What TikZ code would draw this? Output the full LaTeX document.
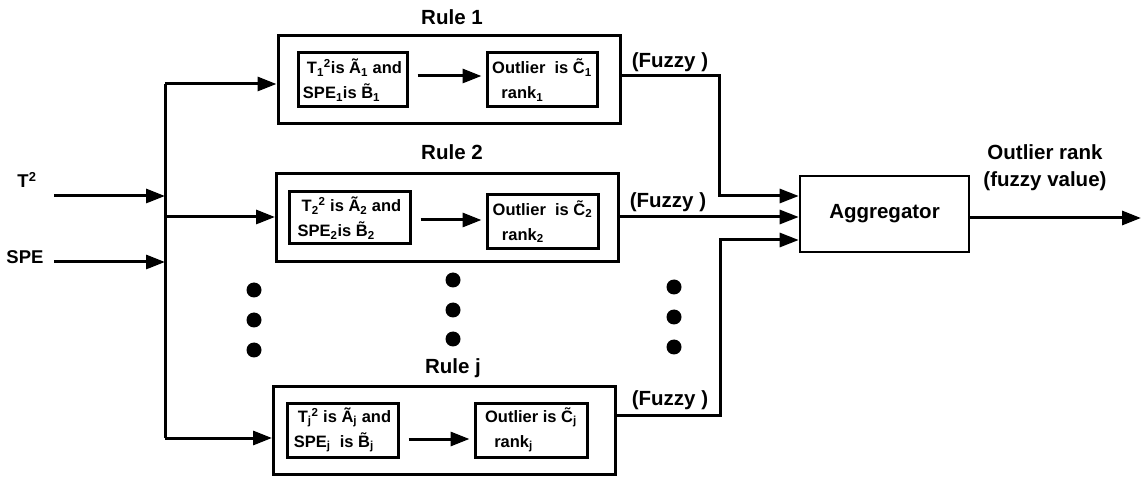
\documentclass[tikz,border=0pt]{standalone}
\usepackage{fontspec}
\setmainfont{Liberation Sans}
\usetikzlibrary{arrows.meta}

\tikzset{
  rulebox/.style={draw, line width=3pt, minimum width=342pt, minimum height=88pt},
  innerbox/.style={draw, line width=3pt, minimum height=54pt, align=left, inner sep=2pt,
    font=\fontsize{16.5}{25}\selectfont\bfseries},
  aggbox/.style={draw, line width=2.6pt, minimum width=169pt, minimum height=76pt,
    font=\fontsize{20.5}{24}\selectfont\bfseries},
  bigtext/.style={font=\fontsize{20.5}{27}\selectfont\bfseries, align=center},
  intext/.style={font=\fontsize{18.5}{22}\selectfont\bfseries},
  gap/.style={shorten <=9pt, shorten >=4pt},
}

\begin{document}
\begin{tikzpicture}[x=1pt,y=-1pt,line width=3pt,>={Triangle[length=19pt,width=14pt]}]
\useasboundingbox (0,0) rectangle (1141,478);

% rules
\node [rulebox] (rule1) at (449,80) {};
\node [rulebox] (rule2) at (447.5,217.5) {};
\node [rulebox] (rulej) at (444.5,430.5) {};

\node [bigtext] (title1) at (452,17) {Rule 1};
\node [bigtext] (title2) at (452,152) {Rule 2};
\node [bigtext] (titlej) at (453,368) {Rule j};

\node [innerbox, minimum width=109pt] (if1) at (352.5,80) {\hspace{4pt}T\textsubscript{1}\textsuperscript{2}is Ã\textsubscript{1} and\\SPE\textsubscript{1}is B̃\textsubscript{1}};
\node [innerbox, minimum width=110pt] (then1) at (542,80) {Outlier\ \ is C̃\textsubscript{1}\\\ \ rank\textsubscript{1}};

\node [innerbox, minimum width=121pt, minimum height=52pt] (if2) at (349.5,218) {\hspace{4pt}T\textsubscript{2}\textsuperscript{2}\ is Ã\textsubscript{2} and\\SPE\textsubscript{2}is B̃\textsubscript{2}};
\node [innerbox, minimum width=111pt] (then2) at (542.5,221.5) {Outlier\ \ is C̃\textsubscript{2}\\\ \ rank\textsubscript{2}};

\node [innerbox, minimum width=111pt] (ifj) at (342.5,430) {\hspace{4pt}T\textsubscript{j}\textsuperscript{2}\ is Ã\textsubscript{j} and\\SPE\textsubscript{j}\ \ is B̃\textsubscript{j}};
\node [innerbox, minimum width=112pt] (thenj) at (531,430) {Outlier is C̃\textsubscript{j}\\\ \ rank\textsubscript{j}};

\draw [->,gap] (if1.east |- 0,76) to (then1.west |- 0,76);
\draw [->,gap] (if2.east |- 0,220) to (then2.west |- 0,220);
\draw [->,gap] (ifj.east |- 0,439) to (thenj.west |- 0,439);

% inputs
\node [intext] (t2) at (27,180) {T\textsuperscript{2}};
\node [intext] (spe) at (25,257) {SPE};
\coordinate (t2in) at (54,196);
\coordinate (spein) at (54,262);
\coordinate (bustop) at (165,84);
\coordinate (busmid) at (165,217);
\coordinate (busbot) at (165,438);

\draw [->] (t2in) to (t2in -| bustop);
\draw [->] (spein) to (spein -| bustop);
\draw (bustop) to (busbot);
\draw [->] (bustop) to (rule1.west |- bustop);
\draw [->] (busmid) to (rule2.west |- busmid);
\draw [->] (busbot) to (rulej.west |- busbot);

% aggregator
\node [aggbox] (agg) at (884.5,214) {Aggregator};
\node [bigtext] (outlbl) at (1045,168) {Outlier rank\\(fuzzy value)};
\coordinate (outend) at (1141,218);
\draw [->] (agg.east |- outend) to (outend);

\node [bigtext] (fuzzy1) at (670,62) {(Fuzzy )};
\node [bigtext] (fuzzy2) at (668,202) {(Fuzzy )};
\node [bigtext] (fuzzyj) at (670,400) {(Fuzzy )};

\coordinate (bend1) at (719,76);
\coordinate (bendj) at (720,415);
\draw [->] (rule1.east |- bend1) -- (bend1) -- (bend1 |- 0,196) -- (agg.west |- 0,196);
\draw [->] (rule2.east |- 0,217) to (agg.west |- 0,217);
\draw [->] (rulej.east |- bendj) -- (bendj) -- (bendj |- 0,240) -- (agg.west |- 0,240);

% dots
\fill (254,290) circle (7.5);
\fill (254,320) circle (7.5);
\fill (254,350) circle (7.5);
\fill (453,280) circle (7.5);
\fill (453,310) circle (7.5);
\fill (453,339) circle (7.5);
\fill (674,287) circle (7.5);
\fill (674,317) circle (7.5);
\fill (674,347) circle (7.5);

\end{tikzpicture}
\end{document}
